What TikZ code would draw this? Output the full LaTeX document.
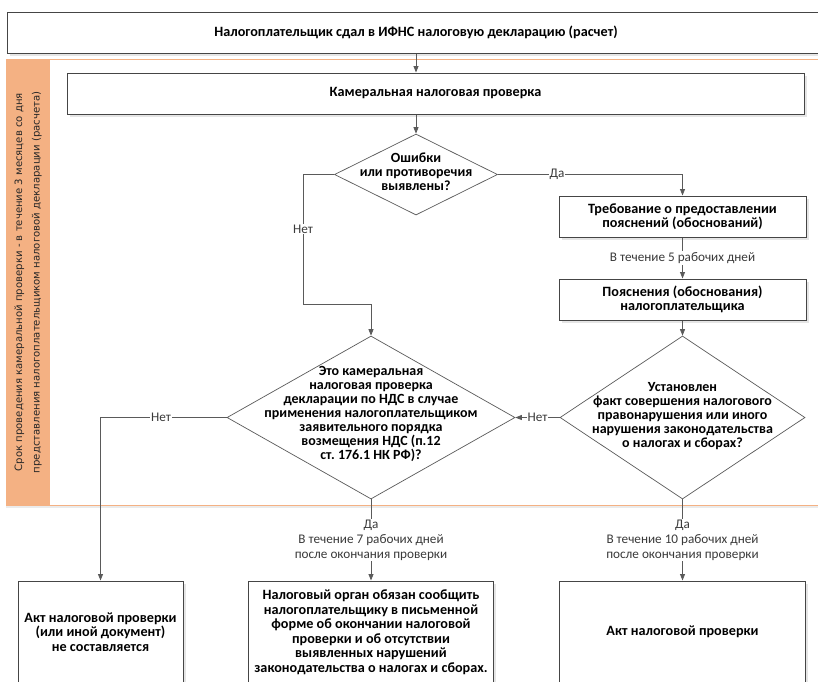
\documentclass[tikz,border=0pt]{standalone}
\usepackage{fontspec}
\setmainfont{Carlito}
\newfontfamily\stripfont{DejaVu Sans}
\usetikzlibrary{arrows.meta,shapes.geometric,shadows}
\definecolor{orng}{HTML}{F4B183}
\definecolor{lnc}{HTML}{5A5A5A}
\definecolor{bxc}{HTML}{454545}
\definecolor{lbc}{HTML}{3A3A3A}
\frenchspacing
\begin{document}
\begin{tikzpicture}[x=1pt,y=-1pt,
  box/.style={rectangle, draw=bxc, line width=1pt, fill=white, inner sep=2pt, align=center,
    font=\bfseries\fontsize{14.2}{14.5}\selectfont,
    drop shadow={shadow xshift=2.5pt, shadow yshift=-2.5pt, fill=black!10, opacity=1}},
  dia/.style={diamond, draw=lnc, line width=0.7pt, fill=white, inner sep=0pt},
  dtext/.style={align=center, inner sep=0pt, font=\bfseries\fontsize{14}{14}\selectfont},
  lbl/.style={fill=white, inner sep=1pt, align=center, text=lbc, font=\fontsize{13.2}{15}\selectfont},
  arr/.style={draw=lnc, line width=0.8pt, -{Triangle[width=5pt,length=6.5pt]}}]
\useasboundingbox (0,0) rectangle (818,681);
\clip (0,0) rectangle (818,681);
% background region
\node[rectangle, draw=orng, line width=0.8pt, minimum width=840pt, minimum height=446pt, anchor=north west, inner sep=0pt,
  drop shadow={shadow xshift=0pt, shadow yshift=-2.5pt, fill=black!8, opacity=1}, fill=white] (region) at (6,59) {};
\node[rectangle, fill=orng, minimum width=44pt, minimum height=446pt, anchor=north west, inner sep=0pt] (strip) at (6,59) {};
\node[rotate=90, align=center, text=black!85, font=\stripfont\fontsize{10.1}{17.5}\selectfont] (striptxt) at (strip.center)
  {Срок проведения камеральной проверки - в течение 3 месяцев со дня\\представления налогоплательщиком налоговой декларации (расчета)};
% boxes
\node[box, minimum width=818pt, minimum height=41pt] (top) at (416,32.5) {Налогоплательщик сдал в ИФНС налоговую декларацию (расчет)};
\node[box, minimum width=737pt, minimum height=41pt] (cam) at (435.5,93.5) {Камеральная налоговая проверка};
\node[dia, minimum width=163pt, minimum height=81pt] (d1) at (416,174.5) {};
\node[dtext] (d1t) at (416,172) {Ошибки\\или противоречия\\выявлены?};
\node[box, minimum width=247pt, minimum height=41pt] (bt) at (682.5,216.5) {Требование о предоставлении\\пояснений (обоснований)};
\node[box, minimum width=247pt, minimum height=41pt] (bp) at (682.5,299.5) {Пояснения (обоснования)\\налогоплательщика};
\node[dia, minimum width=288pt, minimum height=163pt] (d2) at (371,417.5) {};
\node[dtext] (d2t) at (371,414) {Это камеральная\\налоговая проверка\\декларации по НДС в случае\\применения налогоплательщиком\\заявительного порядка\\возмещения НДС (п.12\\ст. 176.1 НК РФ)?};
\node[dia, minimum width=245pt, minimum height=163pt] (d3) at (682.5,417.5) {};
\node[dtext] (d3t) at (682.5,416) {Установлен\\факт совершения налогового\\правонарушения или иного\\нарушения законодательства\\о налогах и сборах?};
\node[box, minimum width=165pt, minimum height=102pt] (b1) at (100.5,632) {Акт налоговой проверки\\(или иной документ)\\не составляется};
\node[box, minimum width=245pt, minimum height=102pt] (b2) at (371,632) {Налоговый орган обязан сообщить\\налогоплательщику в письменной\\форме об окончании налоговой\\проверки и об отсутствии\\выявленных нарушений\\законодательства о налогах и сборах.};
\node[box, minimum width=246pt, minimum height=102pt] (b3) at (682.5,632) {Акт налоговой проверки};
% connectors
\coordinate (n1) at (303,304);
\draw[arr] (top.south -| d1.north) -- (cam.north -| d1.north);
\draw[arr] (cam.south -| d1.north) -- (d1.north);
\draw[arr] (d1.east) -| node[lbl, pos=0.16] {Да} (bt.north);
\draw[arr] (bt.south) -- node[lbl] {В течение 5 рабочих дней} (bp.north);
\draw[arr] (bp.south) -- (d3.north);
\draw[arr] (d1.west) -| node[lbl, pos=0.71] {Нет} (n1) -| (d2.north);
\draw[arr] (d3.west) -- node[lbl] {Нет} (d2.east);
\draw[arr] (d2.west) -| node[lbl, pos=0.26] {Нет} (b1.north);
\draw[arr] (d2.south) -- node[lbl] {Да\\В течение 7 рабочих дней\\после окончания проверки} (b2.north);
\draw[arr] (d3.south) -- node[lbl] {Да\\В течение 10 рабочих дней\\после окончания проверки} (b3.north);
\end{tikzpicture}
\end{document}
